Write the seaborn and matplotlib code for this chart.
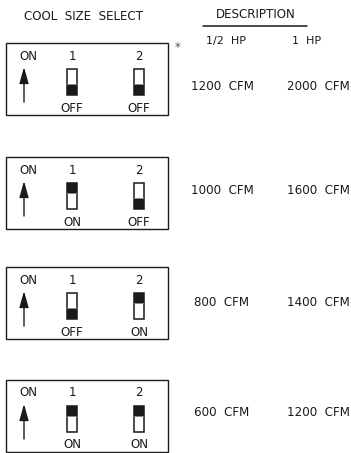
import matplotlib
matplotlib.use("Agg")
import matplotlib.pyplot as plt
from matplotlib.patches import Rectangle
import seaborn as sns

# switch settings per row and the resulting airflow
switch1 = ["OFF", "ON", "OFF", "ON"]
switch2 = ["OFF", "OFF", "ON", "ON"]
cfm_half_hp = [1200, 1000, 800, 600]
cfm_one_hp = [2000, 1600, 1400, 1200]
hp_labels = ["1/2  HP", "1  HP"]

sns.set_theme(style="white")
plt.rcParams["font.family"] = ["DejaVu Sans"]

fig = plt.figure(figsize=(3.51, 4.53), dpi=100)
ax = fig.add_axes([0, 0, 1, 1])
ax.set_xlim(0, 351)
ax.set_ylim(453, 0)
ax.axis("off")

fs = 8.6
ink = "#1a1a1a"

# headers
ax.text(83, 16, "COOL  SIZE  SELECT", ha="center", va="center", fontsize=fs, color=ink)
ax.text(256, 15, "DESCRIPTION", ha="center", va="center", fontsize=fs, color=ink)
ax.plot([203, 307], [26, 26], color=ink, lw=1.1)
ax.text(226, 41, hp_labels[0], ha="center", va="center", fontsize=fs - 0.6, color=ink)
ax.text(307, 41, hp_labels[1], ha="center", va="center", fontsize=fs - 0.6, color=ink)
ax.text(178, 48, "*", ha="center", va="center", fontsize=fs, color="#555555")

row_tops = [43, 157, 267, 380]
cfm_rows_y = [87, 191, 303, 413]
box_h = 72
sw_w, sw_h = 10, 26
sw_x = [72, 139]


def draw_switch(xc, top, state):
    x0 = xc - sw_w / 2
    ax.add_patch(Rectangle((x0, top), sw_w, sw_h, fill=False, ec=ink, lw=1.1))
    dark_h = sw_h * 0.38
    if state == "ON":
        ax.add_patch(Rectangle((x0, top), sw_w, dark_h, color=ink, lw=0))
        ax.add_patch(Rectangle((x0, top + dark_h), sw_w, 1.5, color="#888888", lw=0))
    else:
        ax.add_patch(Rectangle((x0, top + sw_h - dark_h), sw_w, dark_h, color=ink, lw=0))
        ax.add_patch(Rectangle((x0, top + sw_h - dark_h - 1.5), sw_w, 1.5, color="#888888", lw=0))


for i, t in enumerate(row_tops):
    ax.add_patch(Rectangle((6, t), 162, box_h, fill=False, ec=ink, lw=1.0))
    ax.text(28, t + 13, "ON", ha="center", va="center", fontsize=fs, color=ink)
    ax.annotate("", xy=(24, t + 24), xytext=(24, t + 59),
                arrowprops=dict(arrowstyle="-|>,head_length=1.0,head_width=0.28",
                                lw=1.0, color=ink, mutation_scale=10,
                                shrinkA=0, shrinkB=0))
    for xc, num, st in zip(sw_x, ["1", "2"], [switch1[i], switch2[i]]):
        ax.text(xc, t + 13, num, ha="center", va="center", fontsize=fs, color=ink)
        draw_switch(xc, t + 26, st)
        ax.text(xc, t + 65, st, ha="center", va="center", fontsize=fs, color=ink)
    ty = cfm_rows_y[i]
    ax.text(222, ty, f"{cfm_half_hp[i]}  CFM", ha="center", va="center", fontsize=fs, color=ink)
    ax.text(318, ty, f"{cfm_one_hp[i]}  CFM", ha="center", va="center", fontsize=fs, color=ink)

fig.savefig("out.png", dpi=100, facecolor="white")
